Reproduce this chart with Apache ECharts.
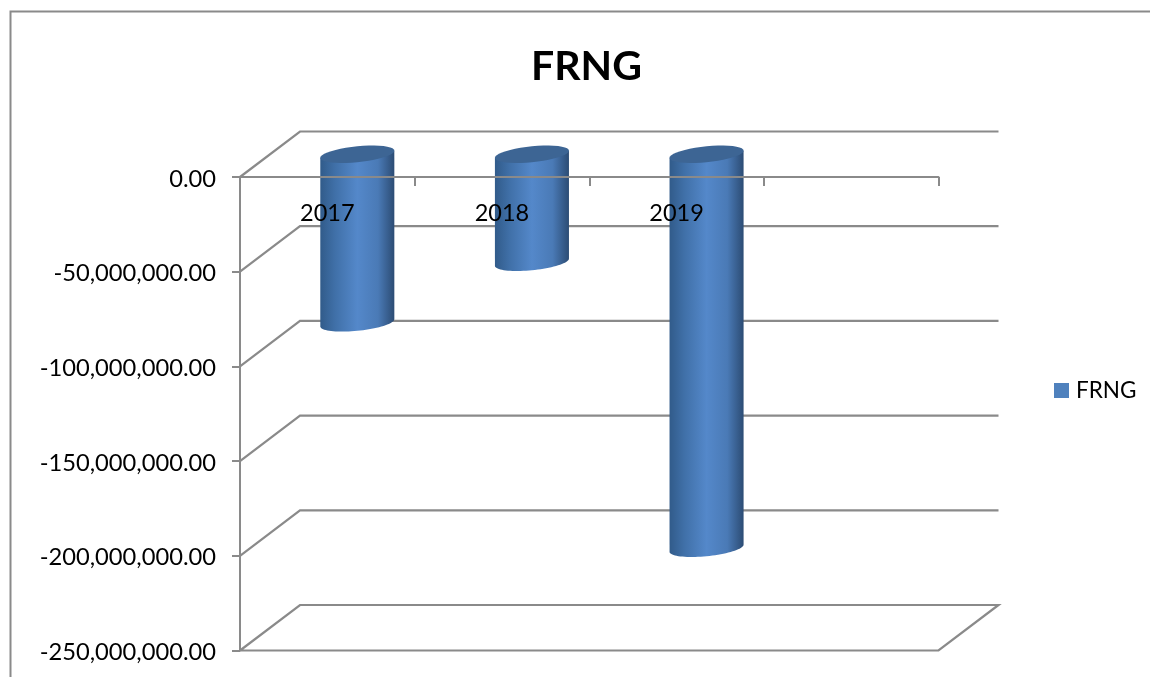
<!DOCTYPE html>
<html>
<head>
<meta charset="utf-8">
<style>html,body{margin:0;padding:0;background:#fff;overflow:hidden}#chart{width:1150px;height:677px}</style>
<script src="https://cdn.jsdelivr.net/npm/echarts@6/dist/echarts.min.js"></script>
</head>
<body>
<div id="chart"></div>
<script>
// FRNG yearly values, with an empty fourth slot on the category axis
const seriesName = 'FRNG';
const categories = ['2017', '2018', '2019', ''];
const frngValues = [-89000000, -57000000, -208000000];
const yTicks = [0, -50000000, -100000000, -150000000, -200000000, -250000000];
const yMin = -250000000;
const yMax = 0;
const yStep = 50000000;

// Oblique projection used for the pseudo-3D floor lines and cylinders
const DEPTH_X = 60;
const DEPTH_Y = -45.5;
const LINE_COLOR = '#8a8a8a';
const FONT = 'Lato, "Open Sans", sans-serif';

// Samples a sheared ellipse between two angles, which gives the tilted cylinder caps
function arcPoints(cx, cy, rx, ry, shear, from, to) {
  const pts = [];
  const steps = 40;
  for (let i = 0; i <= steps; i++) {
    const t = from + (to - from) * i / steps;
    pts.push([cx + rx * Math.cos(t), cy - shear * Math.cos(t) + ry * Math.sin(t)]);
  }
  return pts;
}

function renderCylinder(params, api) {
  const base = api.coord([api.value(0), 0]);
  const end = api.coord([api.value(0), api.value(1)]);
  const band = api.size([1, 0])[0];
  const rx = band * 0.212;
  const ry = 8;
  const shear = 3.6;
  const cx = base[0] + DEPTH_X / 2;
  const topY = base[1] + DEPTH_Y / 2;
  const bottomY = end[1] + DEPTH_Y / 2;
  // Right-to-left along the lower half of the bottom cap, then closed over the top
  const body = [[cx - rx, topY + shear], [cx + rx, topY - shear]]
    .concat(arcPoints(cx, bottomY, rx, ry, shear, 0, Math.PI));
  return {
    type: 'group',
    children: [
      {
        type: 'polygon',
        shape: { points: body },
        style: {
          fill: {
            type: 'linear', x: 0, y: 0, x2: 1, y2: 0,
            colorStops: [
              { offset: 0, color: '#315b8a' },
              { offset: 0.2, color: '#4070a8' },
              { offset: 0.5, color: '#5488ca' },
              { offset: 0.78, color: '#4a7ab6' },
              { offset: 1, color: '#2c4c74' }
            ]
          }
        }
      },
      {
        type: 'polygon',
        shape: { points: arcPoints(cx, topY, rx, ry, shear, 0, Math.PI * 2) },
        style: { fill: '#3d6594' }
      }
    ]
  };
}

// Receding gridlines: diagonal from the front edge to the back wall, then along the wall
function renderDepthLine(params, api) {
  const p = api.coord([0, api.value(1)]);
  const band = api.size([1, 0])[0];
  const left = p[0] - band / 2;
  const width = band * categories.length;
  const isFloor = api.value(1) === yMin;
  const pts = [[left, p[1]], [left + DEPTH_X, p[1] + DEPTH_Y], [left + width + DEPTH_X, p[1] + DEPTH_Y]];
  if (isFloor) {
    pts.push([left + width, p[1]], [left, p[1]]);
  }
  return {
    type: 'polyline',
    shape: { points: pts },
    style: { stroke: LINE_COLOR, lineWidth: 2.2, fill: null }
  };
}

const chart = echarts.init(document.getElementById('chart'));
chart.setOption({
  animation: false,
  backgroundColor: '#ffffff',
  textStyle: { fontFamily: FONT },
  title: {
    text: seriesName,
    left: 581.5,
    top: 41,
    textAlign: 'center',
    textStyle: { fontFamily: FONT, fontSize: 41, fontWeight: 'bold', color: '#000' }
  },
  legend: {
    left: 1049,
    top: 374,
    itemWidth: 15,
    itemHeight: 15,
    itemGap: 8,
    icon: 'rect',
    data: [{ name: seriesName, itemStyle: { color: '#4f81bd' } }],
    textStyle: { fontFamily: FONT, fontSize: 22.5, color: '#000', padding: [0, 0, 0, 2] }
  },
  grid: { left: 240, top: 177, right: 211.5, bottom: 26.5 },
  xAxis: {
    type: 'category',
    position: 'top',
    data: categories,
    z: 10,
    axisLine: { lineStyle: { color: LINE_COLOR, width: 2 } },
    axisTick: { show: true, inside: true, length: 9, lineStyle: { color: LINE_COLOR, width: 2 } },
    axisLabel: { inside: true, margin: 24, fontSize: 23.5, color: '#000', fontFamily: FONT },
    splitLine: { show: false }
  },
  yAxis: {
    type: 'value',
    min: yMin,
    max: yMax,
    interval: yStep,
    axisLine: { show: true, onZero: false, lineStyle: { color: LINE_COLOR, width: 2 } },
    axisTick: { show: true, length: 8, lineStyle: { color: LINE_COLOR, width: 2 } },
    axisLabel: {
      margin: 24,
      color: '#000',
      formatter: function (v) {
        const text = v.toLocaleString('en-US', { minimumFractionDigits: 2, maximumFractionDigits: 2 });
        return '{tick|' + text + '}';
      },
      rich: {
        tick: { fontSize: 23.7, fontFamily: FONT, color: '#000', padding: [4, 0, 0, 0] }
      }
    },
    splitLine: { show: false }
  },
  series: [
    {
      name: 'depthGrid',
      type: 'custom',
      z: 1,
      silent: true,
      renderItem: renderDepthLine,
      encode: { x: 0, y: 1 },
      data: yTicks.map(function (v) { return [0, v]; })
    },
    {
      name: seriesName,
      type: 'custom',
      z: 2,
      renderItem: renderCylinder,
      encode: { x: 0, y: 1 },
      itemStyle: { color: '#4f81bd' },
      data: frngValues.map(function (v, i) { return [i, v]; })
    }
  ],
  graphic: [
    {
      type: 'rect',
      z: -1,
      silent: true,
      shape: { x: 10.5, y: 11.5, width: 1300, height: 800 },
      style: { fill: null, stroke: LINE_COLOR, lineWidth: 2 }
    }
  ]
});
</script>
</body>
</html>
